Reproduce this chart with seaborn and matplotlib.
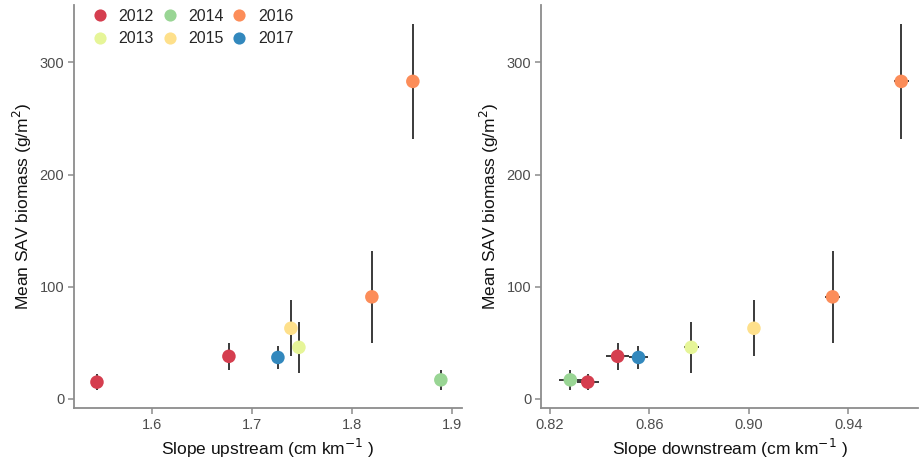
import matplotlib
matplotlib.use("Agg")
import matplotlib.pyplot as plt
import seaborn as sns
import pandas as pd

# Yearly mean SAV biomass with standard errors, against water-surface slope
years = ["2012", "2012", "2013", "2014", "2015", "2016", "2016", "2017"]
slope_up = [1.545, 1.677, 1.747, 1.889, 1.739, 1.820, 1.861, 1.726]
slope_down = [0.8352, 0.8472, 0.8768, 0.8282, 0.9020, 0.9336, 0.9612, 0.8556]
slope_down_err = [0.0045, 0.0045, 0.0030, 0.0045, 0.0020, 0.0030, 0.0030, 0.0040]
biomass = [15, 38, 46, 17, 63, 91, 283, 37]
biomass_err = [7, 12, 23, 9, 25, 41, 51, 10]

year_order = ["2012", "2013", "2014", "2015", "2016", "2017"]
year_colors = ["#D53E4F", "#E6F598", "#99D594", "#FEE08B", "#FC8D59", "#3288BD"]

df = pd.DataFrame({
    "year": years,
    "slope_up": slope_up,
    "slope_down": slope_down,
    "slope_down_err": slope_down_err,
    "biomass": biomass,
    "biomass_err": biomass_err,
})

sns.set_theme(style="white")
plt.rcParams["font.family"] = ["Liberation Sans", "DejaVu Sans"]

fig = plt.figure(figsize=(9.2, 4.62), dpi=100)
ax1 = fig.add_axes([0.0804, 0.117, 0.4216, 0.872])
ax2 = fig.add_axes([0.588, 0.117, 0.410, 0.872])

palette = dict(zip(year_order, year_colors))
bar_color = "#3a3a3a"
spine_color = "#8c8c8c"

# Upstream panel
ax1.errorbar(df["slope_up"], df["biomass"], yerr=df["biomass_err"], fmt="none",
             ecolor=bar_color, elinewidth=1.4, capsize=0, zorder=1)
sns.scatterplot(data=df, x="slope_up", y="biomass", hue="year", hue_order=year_order,
                palette=palette, s=95, edgecolor="none", ax=ax1, zorder=3)

# Downstream panel
ax2.errorbar(df["slope_down"], df["biomass"], xerr=df["slope_down_err"],
             yerr=df["biomass_err"], fmt="none", ecolor=bar_color,
             elinewidth=1.4, capsize=0, zorder=1)
sns.scatterplot(data=df, x="slope_down", y="biomass", hue="year", hue_order=year_order,
                palette=palette, s=95, edgecolor="none", ax=ax2, legend=False, zorder=3)

ax1.set_xlim(1.522, 1.910)
ax2.set_xlim(0.8164, 0.968)
ax1.set_xticks([1.6, 1.7, 1.8, 1.9])
ax2.set_xticks([0.82, 0.86, 0.90, 0.94])
ax2.set_xticklabels(["0.82", "0.86", "0.90", "0.94"])

ax1.set_xlabel("Slope upstream (cm km$^{-1}$ )", fontsize=12.5, color="#111111")
ax2.set_xlabel("Slope downstream (cm km$^{-1}$ )", fontsize=12.5, color="#111111")

for ax in (ax1, ax2):
    ax.set_ylim(-8, 351)
    ax.set_yticks([0, 100, 200, 300])
    ax.set_ylabel("Mean SAV biomass (g/m$^2$)", fontsize=12.5, color="#111111")
    for side in ("top", "right"):
        ax.spines[side].set_visible(False)
    for side in ("left", "bottom"):
        ax.spines[side].set_color(spine_color)
        ax.spines[side].set_linewidth(1.3)
    ax.tick_params(axis="both", which="major", length=4, width=1.1, color=spine_color,
                   labelsize=10.5, labelcolor="#4d4d4d", bottom=True, left=True, pad=3)

leg = ax1.legend(ncol=3, loc="upper left", bbox_to_anchor=(0.005, 1.018), frameon=False,
                 fontsize=11.5, handletextpad=0.35, columnspacing=0.2, labelspacing=0.45,
                 handlelength=1.6, markerscale=0.9, borderaxespad=0.3)
ax1.get_legend().set_title(None)

fig.savefig("out.png", dpi=100)
